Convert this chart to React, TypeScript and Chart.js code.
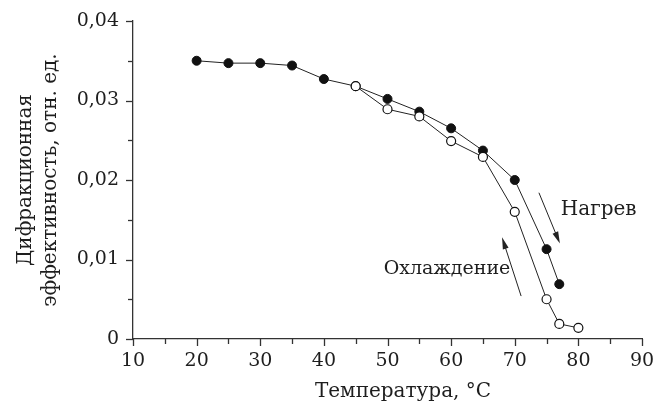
import React, { useEffect, useRef } from 'react';
import { Chart, registerables } from 'chart.js';

Chart.register(...registerables);

// ---- data ----
const heatT = [20, 25, 30, 35, 40, 45, 50, 55, 60, 65, 70, 75, 77];
const heatEff = [0.035, 0.0347, 0.0347, 0.0344, 0.0327, 0.0318, 0.0302, 0.0286, 0.0265, 0.0237, 0.02, 0.0113, 0.0069];
const coolT = [80, 77, 75, 70, 65, 60, 55, 50, 45];
const coolEff = [0.0014, 0.0019, 0.005, 0.016, 0.0229, 0.0249, 0.028, 0.0289, 0.0318];

const xTicks = [10, 20, 30, 40, 50, 60, 70, 80, 90];
const xMinorTicks = [15, 25, 35, 45, 55, 65, 75, 85];
const yTicks = [0, 0.01, 0.02, 0.03, 0.04];
const yTickLabels = ['0', '0,01', '0,02', '0,03', '0,04'];
const yMinorTicks = [0.005, 0.015, 0.025, 0.035];

const xTitle = 'Температура, °C';
const yTitle = ['Дифракционная', 'эффективность, отн. ед.'];

const heatLabel = 'Нагрев';
const coolLabel = 'Охлаждение';
// annotation anchors in data units [T, eff] (label anchors are text centres)
const heatArrow = [[73.8, 0.0184], [77.1, 0.012]];
const coolArrow = [[71.0, 0.0054], [68.0, 0.0128]];
const heatLabelAt = [83.2, 0.0162];
const coolLabelAt = [59.35, 0.0088];

const FONT = "'DejaVu Serif', serif";
const INK = '#1e1e1e';

const decorPlugin = {
  id: 'decor',
  afterDraw(chart: any) {
    const { ctx, chartArea, scales } = chart;
    const xs = scales.x;
    const ys = scales.y;
    ctx.save();
    ctx.strokeStyle = '#333';
    ctx.lineWidth = 1.3;
    const drawX = (v: number, len: number) => {
      const px = Math.round(xs.getPixelForValue(v)) + 0.5;
      ctx.beginPath();
      ctx.moveTo(px, chartArea.bottom);
      ctx.lineTo(px, chartArea.bottom + len);
      ctx.stroke();
    };
    xTicks.forEach((v) => drawX(v, 7));
    xMinorTicks.forEach((v) => drawX(v, 5));
    const drawY = (v: number, len: number) => {
      const py = Math.round(ys.getPixelForValue(v)) + 0.5;
      ctx.beginPath();
      ctx.moveTo(chartArea.left, py);
      ctx.lineTo(chartArea.left - len, py);
      ctx.stroke();
    };
    yTicks.forEach((v) => drawY(v, 7));
    yMinorTicks.forEach((v) => drawY(v, 5));

    const arrow = (a: number[][]) => {
      const x1 = xs.getPixelForValue(a[0][0]);
      const y1 = ys.getPixelForValue(a[0][1]);
      const x2 = xs.getPixelForValue(a[1][0]);
      const y2 = ys.getPixelForValue(a[1][1]);
      const ang = Math.atan2(y2 - y1, x2 - x1);
      const hl = 12;
      const hw = 3;
      ctx.strokeStyle = '#222';
      ctx.fillStyle = '#222';
      ctx.lineWidth = 1;
      ctx.beginPath();
      ctx.moveTo(x1, y1);
      ctx.lineTo(x2 - Math.cos(ang) * hl * 0.8, y2 - Math.sin(ang) * hl * 0.8);
      ctx.stroke();
      const bx = x2 - Math.cos(ang) * hl;
      const by = y2 - Math.sin(ang) * hl;
      ctx.beginPath();
      ctx.moveTo(x2, y2);
      ctx.lineTo(bx + Math.sin(ang) * hw, by - Math.cos(ang) * hw);
      ctx.lineTo(bx - Math.sin(ang) * hw, by + Math.cos(ang) * hw);
      ctx.closePath();
      ctx.fill();
    };
    arrow(heatArrow);
    arrow(coolArrow);

    ctx.fillStyle = INK;
    ctx.textAlign = 'center';
    ctx.textBaseline = 'middle';
    ctx.font = `20px ${FONT}`;
    ctx.fillText(heatLabel, xs.getPixelForValue(heatLabelAt[0]), ys.getPixelForValue(heatLabelAt[1]));
    ctx.font = `19px ${FONT}`;
    ctx.fillText(coolLabel, xs.getPixelForValue(coolLabelAt[0]), ys.getPixelForValue(coolLabelAt[1]));

    ctx.font = `20px ${FONT}`;
    ctx.textBaseline = 'alphabetic';
    ctx.fillText(xTitle, chartArea.left + 270, chartArea.bottom + 58);

    const cy = (chartArea.top + chartArea.bottom) / 2;
    ctx.translate(0, cy);
    ctx.rotate(-Math.PI / 2);
    ctx.fillText(yTitle[0], 0, 31);
    ctx.fillText(yTitle[1], 0, 56);
    ctx.restore();
  },
};

export default function App() {
  const ref = useRef<HTMLCanvasElement | null>(null);
  useEffect(() => {
    if (!ref.current) return;
    const chart = new Chart(ref.current, {
      type: 'line',
      data: {
        datasets: [
          {
            label: 'Охлаждение',
            data: coolT.map((t, i) => ({ x: t, y: coolEff[i] })),
            borderColor: '#222',
            borderWidth: 1,
            pointRadius: 4.5,
            pointBackgroundColor: '#fff',
            pointBorderColor: '#111',
            pointBorderWidth: 1.2,
            order: 0,
            clip: false as any,
          },
          {
            label: 'Нагрев',
            data: heatT.map((t, i) => ({ x: t, y: heatEff[i] })),
            borderColor: '#222',
            borderWidth: 1,
            pointRadius: 4.5,
            pointBackgroundColor: '#111',
            pointBorderColor: '#111',
            pointBorderWidth: 1,
            order: 1,
            clip: false as any,
          },
        ],
      },
      options: {
        animation: false,
        responsive: true,
        maintainAspectRatio: false,
        layout: { padding: { top: 21, right: 11, left: 0, bottom: 0 } },
        plugins: { legend: { display: false }, tooltip: { enabled: false } },
        elements: { line: { tension: 0 } },
        scales: {
          x: {
            type: 'linear',
            min: 10,
            max: 90,
            afterBuildTicks: (s: any) => {
              s.ticks = xTicks.map((v) => ({ value: v }));
            },
            afterFit: (s: any) => {
              s.height = 69;
              s.paddingLeft = 0;
              s.paddingRight = 0;
              s.paddingTop = 0;
              s.paddingBottom = 0;
            },
            ticks: {
              color: INK,
              font: { family: FONT, size: 19 },
              padding: 11,
              maxRotation: 0,
              autoSkip: false,
            },
            grid: { drawOnChartArea: false, drawTicks: false },
            border: { color: '#333', width: 1.3 },
          },
          y: {
            type: 'linear',
            min: 0,
            max: 0.04,
            afterBuildTicks: (s: any) => {
              s.ticks = yTicks.map((v) => ({ value: v }));
            },
            afterFit: (s: any) => {
              s.width = 133;
              s.paddingLeft = 0;
              s.paddingRight = 0;
              s.paddingTop = 0;
              s.paddingBottom = 0;
            },
            ticks: {
              color: INK,
              font: { family: FONT, size: 19 },
              padding: 14,
              autoSkip: false,
              callback: (_v: any, i: number) => yTickLabels[i],
            },
            grid: { drawOnChartArea: false, drawTicks: false },
            border: { color: '#333', width: 1.3 },
          },
        },
      },
      plugins: [decorPlugin],
    } as any);
    return () => chart.destroy();
  }, []);
  return (
    <div style={{ position: 'fixed', left: 0, top: 0, width: 653, height: 408, background: '#fff' }}>
      <canvas ref={ref} />
    </div>
  );
}
